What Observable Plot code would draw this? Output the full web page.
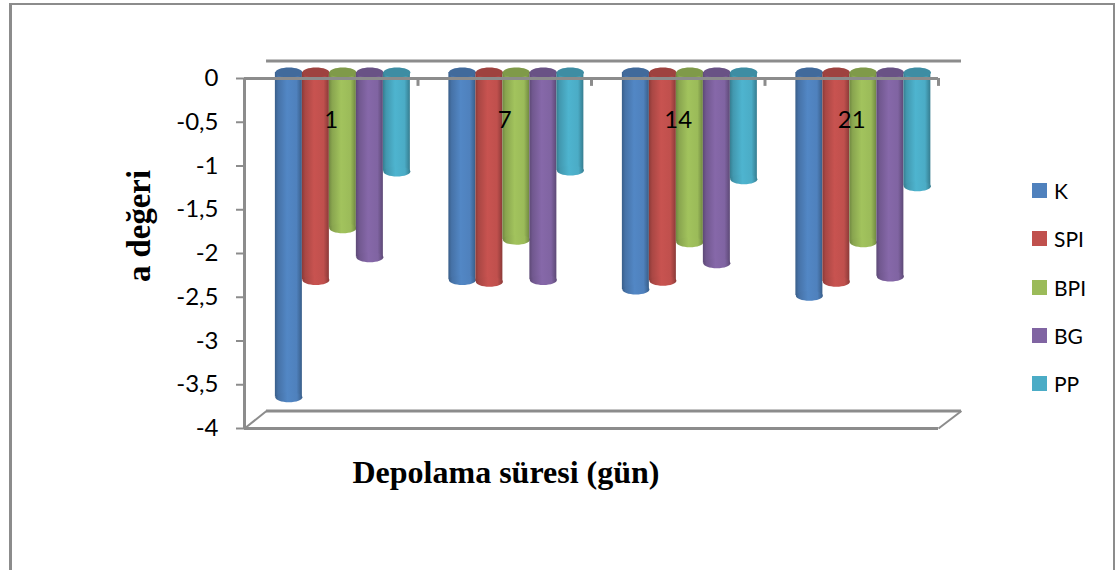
<!DOCTYPE html>
<html><head><meta charset="utf-8">
<script src="https://cdn.jsdelivr.net/npm/d3@7"></script>
<script src="https://cdn.jsdelivr.net/npm/@observablehq/plot@0.6"></script>
<style>
html,body{margin:0;padding:0;background:#fff;overflow:hidden}
#wrap{position:relative;width:1115px;height:570px}
#frame{position:absolute;left:9px;top:3px;width:1106px;height:600px;border:3px solid #8c8c8c;border-top-width:2px;border-right-width:2px;box-sizing:border-box}
.leg{position:absolute;font:21px Lato,sans-serif;color:#000;left:1054px;line-height:20px}
.sw{position:absolute;left:1032px;width:15px;height:15px}
#ylab{position:absolute;left:139px;top:226px;transform:translate(-50%,-50%) rotate(-90deg);font:bold 32.8px "Liberation Serif",serif;white-space:nowrap}
#xlab{position:absolute;left:506px;top:472px;transform:translate(-50%,-50%);font:bold 32px "Liberation Serif",serif;white-space:nowrap}
svg{position:absolute;left:0;top:0}
</style></head><body><div id="wrap"><div id="frame"></div></div>
<script>
const days = ["1","7","14","21"];
const seriesNames = ["K","SPI","BPI","BG","PP"];
const K   = [-3.71,-2.37,-2.48,-2.55];
const SPI = [-2.37,-2.39,-2.38,-2.39];
const BPI = [-1.78,-1.91,-1.94,-1.94];
const BG  = [-2.11,-2.37,-2.18,-2.33];
const PP  = [-1.13,-1.12,-1.22,-1.30];
const yTicks = [0,-0.5,-1,-1.5,-2,-2.5,-3,-3.5,-4];
const colors = ["#4f81bd","#c0504d","#9bbb59","#8064a2","#4bacc6"];
const allValues = [K,SPI,BPI,BG,PP];

const grey = "#8c8c8c";
const barW = 0.1556, barStart = 0.178;
const rows = allValues.map((vals,s)=>vals.map((v,g)=>({g,s,v,
  x1:g+barStart+s*barW, x2:g+barStart+(s+1)*barW, xc:g+barStart+(s+.5)*barW})));
const ellipse = {draw(c){
  const rx=13.5, ry=5, k=.5523;
  c.moveTo(-rx,0);
  c.bezierCurveTo(-rx,-ry*k,-rx*k,-ry,0,-ry);
  c.bezierCurveTo(rx*k,-ry,rx,-ry*k,rx,0);
  c.bezierCurveTo(rx,ry*k,rx*k,ry,0,ry);
  c.bezierCurveTo(-rx*k,ry,-rx,ry*k,-rx,0);
  c.closePath();
}};
function defs(){
  const d=d3.create("svg:defs");
  colors.forEach((col,i)=>{
    const c=d3.color(col);
    const g=d.append("linearGradient").attr("id","cyl"+i);
    [[0,c.darker(.9)],[.12,c.darker(.35)],[.45,c.brighter(.12)],[.8,c],[1,c.darker(.9)]]
      .forEach(([o,v])=>g.append("stop").attr("offset",o).attr("stop-color",v.formatHex()));
  });
  return d.node();
}
const depthX=0.127, depthXEnd=0.1325, depthY=0.2;
const gx=[0,1,2,3,4];
const marks=[
  defs,
  Plot.ruleY([depthY],{x1:depthX,x2:4+depthXEnd,stroke:grey,strokeWidth:3}),
  Plot.ruleY([-4+depthY],{x1:depthX,x2:4+depthXEnd,stroke:grey,strokeWidth:3}),
  Plot.link([{a:0,b:-4,c:depthX,d:-4+depthY},{a:4,b:-4,c:4+depthXEnd,d:-4+depthY}],{x1:"a",y1:"b",x2:"c",y2:"d",stroke:grey,strokeWidth:2}),
  Plot.ruleY([-4],{stroke:grey,strokeWidth:3}),
];
rows.forEach((r,s)=>{
  marks.push(
    Plot.rect(r,{x1:"x1",x2:"x2",y1:0,y2:"v",fill:`url(#cyl${s})`,dy:-6}),
    Plot.dot(r,{x:"xc",y:"v",symbol:ellipse,fill:`url(#cyl${s})`,stroke:"none",dy:-6}),
    Plot.dot(r,{x:"xc",y:()=>0,symbol:ellipse,fill:d3.color(colors[s]).darker(.55).formatHex(),stroke:"none",dy:-6})
  );
});
marks.push(
  Plot.ruleY([0],{stroke:grey,strokeWidth:3}),
  Plot.ruleX(gx,{y1:0,y2:-0.09,stroke:grey,strokeWidth:3}),
  Plot.ruleX([0],{y1:0,y2:-4,stroke:grey,strokeWidth:3}),
  Plot.axisY({ticks:yTicks,tickFormat:d=>String(d).replace(".",","),tickSize:8,tickPadding:18,stroke:grey,
    strokeWidth:2,fontSize:24,label:null,textStroke:"none",fill:"#000"}),
  Plot.text(days,{x:(d,i)=>i+.5,y:()=>-0.5,text:d=>d,fontSize:24,fill:"#000",dy:-2})
);
const plot=Plot.plot({
  width:1115,height:570,marginLeft:244,marginRight:177,marginTop:78,marginBottom:142,
  x:{domain:[0,4],axis:null},
  y:{domain:[-4,0],axis:null},
  style:{fontFamily:"Lato,sans-serif",background:"transparent",overflow:"visible"},
  marks
});
const wrap=document.getElementById("wrap");
wrap.appendChild(plot);
seriesNames.forEach((n,i)=>{
  const top=183+i*48.25;
  const sw=document.createElement("div");sw.className="sw";sw.style.top=top+"px";sw.style.background=colors[i];wrap.appendChild(sw);
  const t=document.createElement("div");t.className="leg";t.style.top=(top-2)+"px";t.textContent=n;wrap.appendChild(t);
});
const yl=document.createElement("div");yl.id="ylab";yl.textContent="a değeri";wrap.appendChild(yl);
const xl=document.createElement("div");xl.id="xlab";xl.textContent="Depolama süresi (gün)";wrap.appendChild(xl);
</script></body></html>
